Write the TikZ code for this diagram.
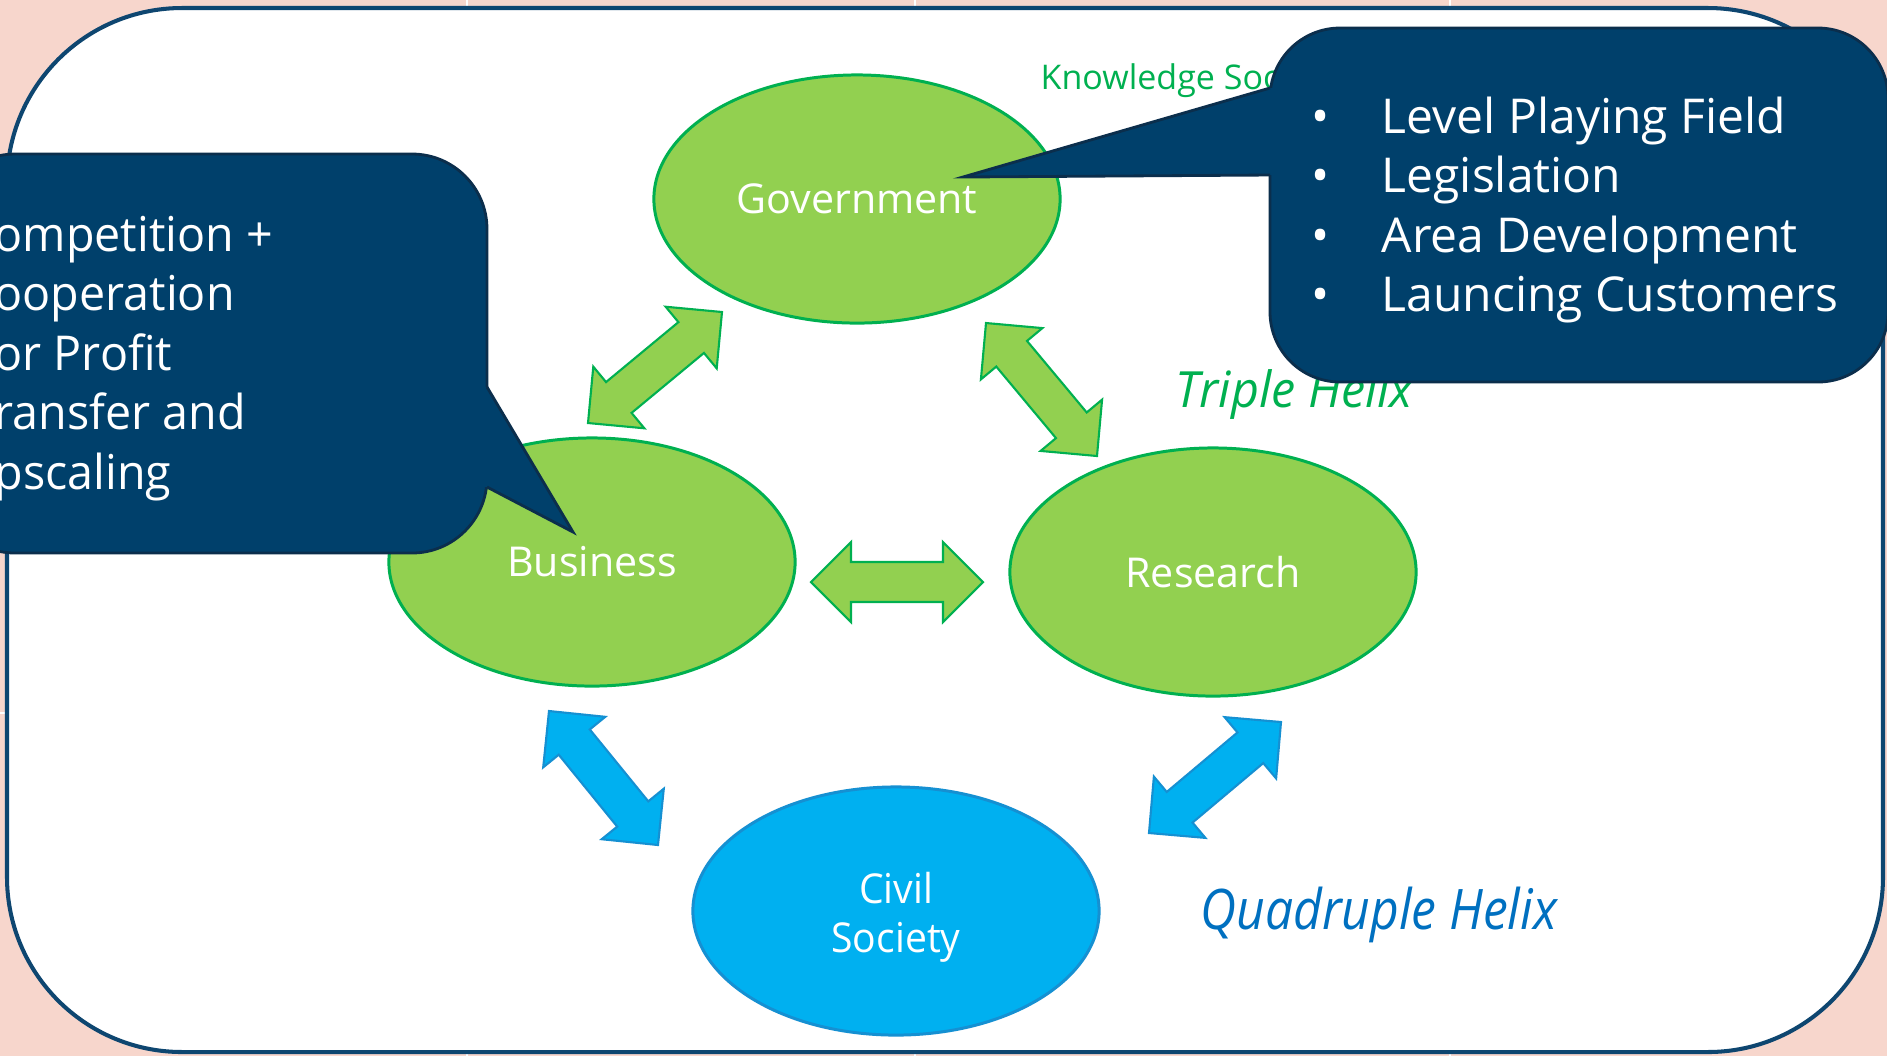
\documentclass[tikz,border=0pt]{standalone}
\usepackage{fontspec}
\setmainfont{Open Sans}
\usetikzlibrary{shapes.geometric,calc}

\definecolor{slidepink}{HTML}{F7D6CC}
\definecolor{framenavy}{HTML}{0E4670}
\definecolor{calloutnavy}{HTML}{00406B}
\definecolor{calloutedge}{HTML}{0B2E4C}
\definecolor{helixgreen}{HTML}{92D050}
\definecolor{helixedge}{HTML}{00B050}
\definecolor{civilblue}{HTML}{00B0F0}
\definecolor{civiledge}{HTML}{1590D2}
\definecolor{quadblue}{HTML}{0070C0}

% double block arrow between two named points
\newcommand{\helixarrow}[3][]{%
  \coordinate (ha) at ($(#2)!0.4cm!(#3)$);
  \coordinate (hb) at ($(#3)!0.4cm!(#2)$);
  \filldraw[#1] (#2) -- ($(ha)!0.4cm!90:(#3)$) -- ($(ha)!0.2cm!90:(#3)$)
    -- ($(hb)!0.2cm!-90:(#2)$) -- ($(hb)!0.4cm!-90:(#2)$) -- (#3)
    -- ($(hb)!0.4cm!90:(#2)$) -- ($(hb)!0.2cm!90:(#2)$)
    -- ($(ha)!0.2cm!-90:(#3)$) -- ($(ha)!0.4cm!-90:(#3)$) -- cycle;}

\tikzset{
  helix/.style={ellipse, draw=helixedge, fill=helixgreen, line width=0.85pt,
    minimum width=4.06cm, minimum height=2.48cm, inner sep=0pt, text=white,
    align=center, font=\fontsize{11.7}{13.9}\selectfont},
  civil/.style={helix, draw=civiledge, fill=civilblue},
  greenarrow/.style={fill=helixgreen, draw=helixedge, line width=0.6pt},
  bluearrow/.style={fill=civilblue, draw=civiledge, line width=0.6pt},
  calloutbox/.style={fill=calloutnavy, draw=calloutedge, line width=0.8pt},
  callouttext/.style={text=white, inner sep=0pt, anchor=base west,
    font=\fontsize{13.66}{16.96}\selectfont},
  helixlabel/.style={inner sep=0pt, anchor=base west}
}

\begin{document}
\begin{tikzpicture}[x=0.01cm, y=-0.01cm]
  \useasboundingbox (0,0) rectangle (1887,1056);
  \clip (0,0) rectangle (1887,1056);

  % slide background
  \fill[slidepink] (0,0) rectangle (1887,1056);
  \foreach \x in {467,915,1450}
    \draw[white, line width=0.6pt] (\x,0) -- (\x,1056);
  \draw[white, line width=0.6pt] (0,713) -- (7,713);
  \draw[draw=framenavy, line width=1.15pt, fill=white, rounded corners=1.75cm]
    (7,8) rectangle (1883,1052);

  \node[helixlabel, text=helixedge, font=\fontsize{9.67}{11}\selectfont]
    (knowledge) at (1040,89) {Knowledge Soc};

  % the helices
  \node[helix] (gov) at (857,199) {Government};
  \node[helix] (bus) at (592,562) {Business};
  \node[helix] (res) at (1213,572) {Research};
  \node[civil] (civ) at (896,911) {};
  \node[align=center, text=white, inner sep=0pt, xscale=0.95,
    font=\fontsize{11.7}{13.9}\selectfont] (civtext) at (896,917) {Civil\\Society};

  \coordinate (gb1) at (588,423);  \coordinate (gb2) at (722,312);
  \coordinate (gr1) at (986,323);  \coordinate (gr2) at (1097,456);
  \coordinate (br1) at (811,582);  \coordinate (br2) at (983,582);
  \coordinate (bc1) at (549,711);  \coordinate (bc2) at (658,845);
  \coordinate (rc1) at (1281,722); \coordinate (rc2) at (1149,833);

  \helixarrow[greenarrow]{gb1}{gb2}
  \helixarrow[greenarrow]{gr1}{gr2}
  \helixarrow[greenarrow]{br1}{br2}
  \helixarrow[bluearrow]{bc1}{bc2}
  \helixarrow[bluearrow]{rc1}{rc2}

  \node[helixlabel, text=helixedge, xscale=0.97,
    font=\itshape\fontsize{14.2}{16}\selectfont] (triple) at (1175,407) {Triple Helix};
  \node[helixlabel, text=quadblue, xscale=0.89,
    font=\itshape\fontsize{15.9}{18}\selectfont] (quadruple) at (1200,929) {Quadruple Helix};

  % left callout
  \draw[calloutbox, rounded corners=0.75cm] (-60,154) rectangle (487,553);
  \fill[calloutnavy] (480,387) -- (487,387) -- (573,532) -- (487,487) -- (480,487) -- cycle;
  \draw[calloutedge, line width=0.8pt] (487,387) -- (573,532) -- (487,487);
  \foreach \entry [count=\i] in {ompetition +, ooperation, or Profit, ransfer and, pscaling}
    \node[callouttext, xscale=0.97] (gain\i) at (-6,{251+59.6*(\i-1)}) {\entry};

  % right callout
  \draw[calloutbox, rounded corners=0.7cm] (1270,28) rectangle (1888,382);
  \fill[calloutnavy] (1277,88) -- (1270,88) -- (963,177) -- (1270,175) -- (1277,175) -- cycle;
  \draw[calloutedge, line width=0.8pt] (1270,88) -- (963,177) -- (1270,175);
  \foreach \entry [count=\i] in {Level Playing Field, Legislation, Area Development, Launcing Customers} {
    \node[callouttext] (dot\i) at (1311,{133+59.6*(\i-1)}) {\textbullet};
    \node[callouttext] (role\i) at (1381,{133+59.6*(\i-1)}) {\entry};
  }
\end{tikzpicture}
\end{document}
